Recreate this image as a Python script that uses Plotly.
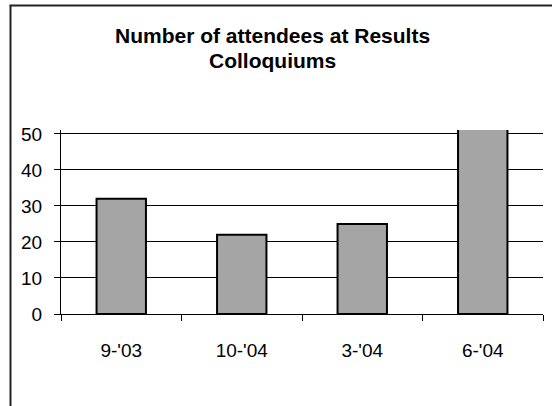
import plotly.graph_objects as go

# Attendance per colloquium
categories = ["9-'03", "10-'04", "3-'04", "6-'04"]
attendees = [32, 22, 25, 52]
y_ticks = [0, 10, 20, 30, 40, 50]
title_lines = ["Number of attendees at Results", "Colloquiums"]

W, H = 552, 406
L, R, T, B = 61, 9, 130, 92
plot_w, plot_h = W - L - R, H - T - B

def px_x(x):
    return (x - L) / plot_w

def px_y(y):
    return (H - B - y) / plot_h

FONT = "Arial, Liberation Sans, sans-serif"

fig = go.Figure(
    go.Bar(
        x=categories,
        y=attendees,
        marker=dict(color="#a5a5a5", line=dict(color="#000000", width=2)),
        width=0.41,
    )
)

fig.update_layout(
    width=W,
    height=H,
    margin=dict(l=L, r=R, t=T, b=B),
    paper_bgcolor="white",
    plot_bgcolor="white",
    showlegend=False,
    font=dict(family=FONT, size=19, color="#000000"),
)

fig.update_xaxes(
    type="category",
    showline=True,
    linecolor="#000000",
    linewidth=1,
    ticks="outside",
    tickson="boundaries",
    ticklen=6,
    tickcolor="#000000",
    tickwidth=1,
    ticklabelstandoff=19,
    showgrid=False,
    tickfont=dict(family=FONT, size=19),
)

fig.update_yaxes(
    range=[0, 51.1],
    tickvals=y_ticks,
    showline=True,
    linecolor="#000000",
    linewidth=1,
    ticks="outside",
    ticklen=6,
    tickcolor="#000000",
    ticklabelstandoff=8,
    showgrid=True,
    gridcolor="#000000",
    gridwidth=1,
    zeroline=False,
    tickfont=dict(family=FONT, size=19),
)

# Chart title, two centred lines
for text, yc in zip(title_lines, [35, 60]):
    fig.add_annotation(
        text=f"<b>{text}</b>",
        xref="paper", yref="paper",
        x=px_x(272), y=px_y(yc),
        xanchor="center", yanchor="middle",
        showarrow=False,
        font=dict(family=FONT, size=21, color="#000000"),
    )

# Chart-area frame (left and top edges)
fig.add_shape(type="line", xref="paper", yref="paper",
              x0=px_x(10.5), x1=px_x(10.5), y0=px_y(5.5), y1=px_y(H + 5),
              line=dict(color="#222222", width=2))
fig.add_shape(type="line", xref="paper", yref="paper",
              x0=px_x(9.5), x1=px_x(W + 5), y0=px_y(5.5), y1=px_y(5.5),
              line=dict(color="#222222", width=2))

fig.write_html("out.html")
